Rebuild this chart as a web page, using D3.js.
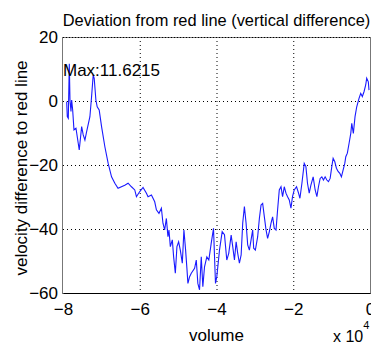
<!DOCTYPE html>
<html>
<head>
<meta charset="utf-8">
<script src="https://cdn.jsdelivr.net/npm/d3@7"></script>
<style>
  body { margin: 0; background: #fff; }
  text { font-family: "Liberation Sans", Arial, sans-serif; fill: #000; }
</style>
</head>
<body>
<svg id="chart" width="371" height="346"></svg>
<script>
// volume, in units of 1e4
const volume = [
  -7.904, -7.888, -7.862, -7.836, -7.818, -7.792, -7.774, -7.748, -7.714, -7.662,
  -7.603, -7.577, -7.514, -7.473, -7.429, -7.384, -7.299, -7.255, -7.213, -7.187,
  -7.143, -7.109, -7.057, -6.995, -6.909, -6.823, -6.735, -6.649, -6.566, -6.390,
  -6.304, -6.216, -6.130, -6.086, -6.000, -5.914, -5.826, -5.784, -5.696, -5.610,
  -5.566, -5.499, -5.436, -5.395, -5.351, -5.306, -5.265, -5.239, -5.203, -5.151,
  -5.117, -5.073, -5.031, -4.987, -4.943, -4.891, -4.849, -4.805, -4.771, -4.745,
  -4.701, -4.657, -4.571, -4.527, -4.486, -4.442, -4.397, -4.356, -4.312, -4.252,
  -4.200, -4.138, -4.078, -4.026, -3.992, -3.922, -3.852, -3.792, -3.732, -3.681,
  -3.618, -3.577, -3.532, -3.488, -3.447, -3.403, -3.358, -3.317, -3.273, -3.229,
  -3.187, -3.143, -3.099, -3.057, -3.031, -2.987, -2.927, -2.883, -2.839, -2.797,
  -2.753, -2.709, -2.668, -2.623, -2.579, -2.538, -2.494, -2.449, -2.408, -2.364,
  -2.319, -2.278, -2.234, -2.190, -2.148, -2.104, -2.060, -2.018, -1.974, -1.914,
  -1.862, -1.826, -1.774, -1.714, -1.670, -1.629, -1.584, -1.540, -1.481, -1.429,
  -1.384, -1.343, -1.299, -1.255, -1.213, -1.169, -1.125, -1.083, -1.039, -0.995,
  -0.961, -0.917, -0.875, -0.831, -0.787, -0.745, -0.701, -0.657, -0.631, -0.590,
  -0.545, -0.501, -0.475, -0.434, -0.390, -0.346, -0.286, -0.242, -0.200, -0.156,
  -0.112, -0.086, -0.044, -0.026
];
const deviation = [
  -0.2, -4.9, -5.4, 11.6215, 0.3, -3.3, 0.3, -2.8, -9.0, -8.5,
  -13.2, -15.3, -8.0, -10.6, -12.2, -9.6, -4.9, 1.4, 8.1, 7.1,
  0.3, -1.8, -2.8, -8.0, -14.3, -19.5, -23.7, -25.7, -27.3, -26.3,
  -25.7, -26.8, -27.8, -29.9, -28.3, -27.0, -28.8, -29.9, -29.4, -31.5,
  -34.0, -35.1, -33.5, -38.2, -40.3, -36.7, -42.4, -40.3, -45.5, -43.4,
  -48.7, -53.8, -45.5, -44.0, -46.6, -50.7, -40.3, -46.6, -52.3, -57.0,
  -54.9, -53.8, -52.3, -49.7, -57.0, -59.0, -48.7, -58.0, -51.8, -48.7,
  -49.7, -44.5, -39.8, -57.0, -54.9, -46.6, -40.8, -41.8, -49.7, -47.6,
  -41.9, -45.5, -49.7, -44.0, -47.6, -50.7, -48.1, -38.2, -33.0, -38.2,
  -45.0, -46.6, -43.4, -40.3, -46.0, -46.6, -42.4, -36.7, -32.5, -32.0,
  -36.2, -40.3, -42.9, -40.8, -38.2, -36.2, -39.8, -40.3, -34.0, -27.8,
  -26.8, -29.9, -26.8, -28.8, -29.9, -30.9, -33.5, -29.8, -27.8, -26.8,
  -28.8, -30.4, -25.7, -19.5, -20.5, -25.7, -28.8, -26.3, -23.7, -27.8,
  -29.9, -26.8, -24.2, -23.7, -24.7, -23.7, -24.7, -25.2, -24.2, -20.5,
  -17.9, -19.0, -21.0, -22.0, -22.6, -23.7, -21.6, -19.5, -17.4, -16.3,
  -13.2, -10.1, -7.0, -10.1, -4.9, -1.8, 0.8, 2.4, 1.4, 2.9,
  5.0, 7.1, 6.0, 3.4
];
const xTicks = [-8, -6, -4, -2, 0];
const yTicks = [-60, -40, -20, 0, 20];

const svg = d3.select('#chart');
const margin = { top: 37, right: 1, bottom: 53, left: 63 };
const width = 371 - margin.left - margin.right;
const height = 346 - margin.top - margin.bottom;

const x = d3.scaleLinear().domain([-8, 0]).range([0, width]);
const y = d3.scaleLinear().domain([-60, 20]).range([height, 0]);

const g = svg.append('g')
  .attr('transform', `translate(${margin.left},${margin.top})`);

// dotted grid
g.append('g')
  .selectAll('line')
  .data(xTicks.slice(1, -1))
  .enter()
  .append('line')
  .attr('x1', (d) => x(d) + 0.5)
  .attr('x2', (d) => x(d) + 0.5)
  .attr('y1', 0)
  .attr('y2', height)
  .attr('stroke', '#000')
  .attr('stroke-dasharray', '1,3');

g.append('g')
  .selectAll('line')
  .data(yTicks.slice(1, -1))
  .enter()
  .append('line')
  .attr('x1', 0)
  .attr('x2', width)
  .attr('y1', (d) => y(d) + 0.5)
  .attr('y2', (d) => y(d) + 0.5)
  .attr('stroke', '#000')
  .attr('stroke-dasharray', '1,3');

// frame
g.append('rect')
  .attr('x', -0.5)
  .attr('y', 0.5)
  .attr('width', width + 1)
  .attr('height', height)
  .attr('fill', 'none')
  .attr('stroke', '#777');

// the curve
const line = d3.line()
  .x((d, i) => x(volume[i]))
  .y((d) => y(d));

g.append('path')
  .datum(deviation)
  .attr('fill', 'none')
  .attr('stroke', '#1a1aff')
  .attr('stroke-width', 1.1)
  .attr('d', line);

// axes
const xAxis = d3.axisBottom(x).tickValues(xTicks).tickSize(0).tickPadding(10)
  .tickFormat(d3.format('d'));
const yAxis = d3.axisLeft(y).tickValues(yTicks).tickSize(0).tickPadding(5)
  .tickFormat(d3.format('d'));

g.append('g')
  .attr('transform', `translate(0,${height})`)
  .call(xAxis)
  .call((s) => s.select('.domain').attr('stroke', '#000'))
  .selectAll('text')
  .style('font-size', '17px');

g.append('g')
  .call(yAxis)
  .call((s) => s.select('.domain').remove())
  .selectAll('text')
  .style('font-size', '17px');

// top dotted edge
g.append('line')
  .attr('x1', 0).attr('x2', width)
  .attr('y1', 0.5).attr('y2', 0.5)
  .attr('stroke', '#000')
  .attr('stroke-dasharray', '1,2');

// max annotation
const maxVal = d3.max(deviation);
g.append('text')
  .attr('x', 0)
  .attr('y', y(maxVal) + 12)
  .style('font-size', '17px')
  .text(`Max:${maxVal}`);

// titles
svg.append('text')
  .attr('x', margin.left + width / 2)
  .attr('y', 26)
  .attr('text-anchor', 'middle')
  .style('font-size', '16.4px')
  .text('Deviation from red line (vertical difference)');

svg.append('text')
  .attr('x', margin.left + width / 2)
  .attr('y', 341)
  .attr('text-anchor', 'middle')
  .style('font-size', '17px')
  .text('volume');

svg.append('text')
  .attr('transform', `translate(27,${margin.top + height / 2 + 3}) rotate(-90)`)
  .attr('text-anchor', 'middle')
  .style('font-size', '17px')
  .text('velocity difference to red line');

const expo = svg.append('text')
  .attr('x', 333)
  .attr('y', 342)
  .style('font-size', '16px');
expo.append('tspan').text('x 10');
expo.append('tspan')
  .attr('dy', -13)
  .style('font-size', '11px')
  .text('4');
</script>
</body>
</html>
